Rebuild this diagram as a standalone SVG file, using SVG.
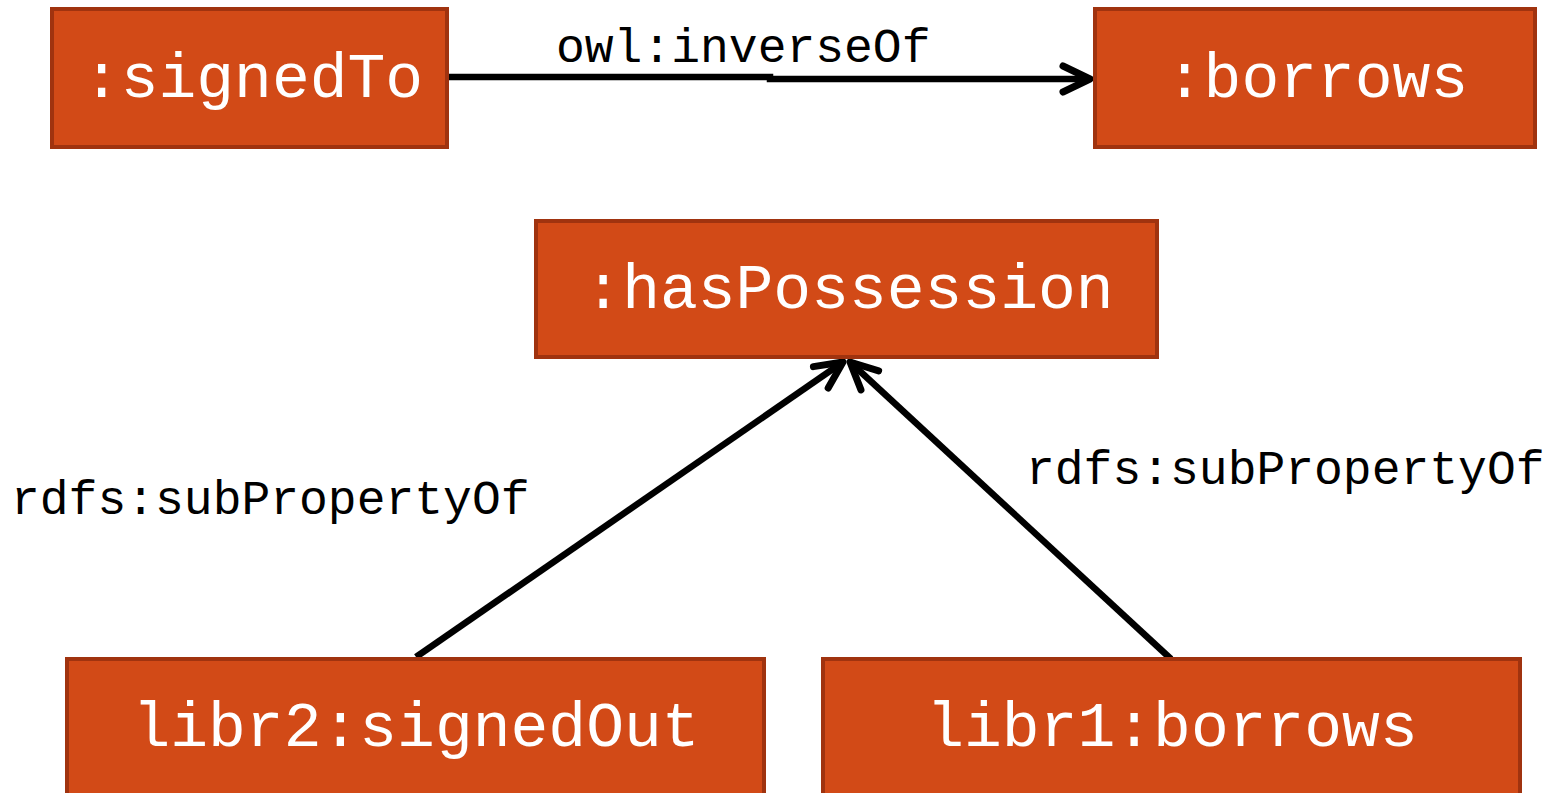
<svg xmlns="http://www.w3.org/2000/svg" width="1546" height="793" viewBox="0 0 1546 793">
<defs>
<style>
.box{fill:#D24A17;stroke:#A0330F;stroke-width:4}
.nt{font-family:"Liberation Mono","Courier New",monospace;font-size:63px;fill:#FFFFFF;text-anchor:middle}
.lbl{font-family:"Liberation Mono","Courier New",monospace;font-size:48px;fill:#000000}
.edge{stroke:#000;stroke-width:6.5;fill:none}
</style>
<marker id="arr" markerUnits="userSpaceOnUse" viewBox="-34 -20 40 40" refX="0" refY="0" markerWidth="40" markerHeight="40" orient="auto">
<path d="M-27,-13 L0,0 L-27,13" fill="none" stroke="#000" stroke-width="7" stroke-linecap="round" stroke-linejoin="round"/>
</marker>
</defs>
<rect width="1546" height="793" fill="#FFFFFF"/>
<g id="connectors">
<path class="edge" d="M447,77 L770,77 L770,79 L1090,79" marker-end="url(#arr)"/>
<path class="edge" d="M416,657 L843,362" marker-end="url(#arr)"/>
<path class="edge" d="M1171,659 L850,362" marker-end="url(#arr)"/>
<text class="lbl" x="556" y="62">owl:inverseOf</text>
<text class="lbl" x="11" y="514">rdfs:subPropertyOf</text>
<text class="lbl" x="1026" y="484">rdfs:subPropertyOf</text>
</g>
<g id="signedTo">
<rect class="box" x="52" y="9" width="395" height="138"/>
<text class="nt" x="253" y="97">:signedTo</text>
</g>
<g id="borrows">
<rect class="box" x="1095" y="9" width="440" height="138"/>
<text class="nt" x="1317" y="97">:borrows</text>
</g>
<g id="hasPossession">
<rect class="box" x="536" y="221" width="621" height="136"/>
<text class="nt" x="849" y="308">:hasPossession</text>
</g>
<g id="signedOut">
<rect class="box" x="67" y="659" width="697" height="150"/>
<text class="nt" x="416" y="746">libr2:signedOut</text>
</g>
<g id="libr1borrows">
<rect class="box" x="823" y="659" width="697" height="150"/>
<text class="nt" x="1172" y="746">libr1:borrows</text>
</g>
</svg>
